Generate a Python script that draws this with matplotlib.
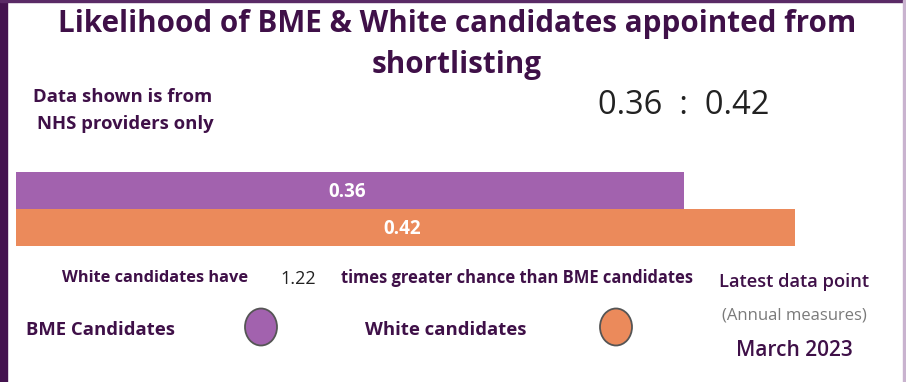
import matplotlib
matplotlib.use("Agg")
import matplotlib.pyplot as plt
from matplotlib.patches import Ellipse, Rectangle

W, H = 906, 382

title_lines = ["Likelihood of BME & White candidates appointed from", "shortlisting"]
note_lines = ["Data shown is from", "NHS providers only"]
groups = ["BME Candidates", "White candidates"]
values = [0.36, 0.42]
colors = ["#a262ae", "#eb8a5b"]
ratio = 1.22
period_lines = ["Latest data point", "(Annual measures)", "March 2023"]

DARK = "#3f1048"
plt.rcParams["font.family"] = ["Open Sans", "DejaVu Sans"]

fig = plt.figure(figsize=(W / 100, H / 100), dpi=100)


def px(x, y):
    return x / W, 1 - y / H


def label(x, y, s, size, weight="bold", color=DARK, **kw):
    fig.text(*px(x, y), s, ha="center", va="center", fontsize=size,
             fontweight=weight, color=color, **kw)


# frame
fig.patches.append(Rectangle((0, 0), 7 / W, 1, transform=fig.transFigure,
                             color="#44134f", zorder=5))
fig.patches.append(Rectangle((0, 1 - 2 / H), 1, 2 / H, transform=fig.transFigure,
                             color="#5a2a66", zorder=5))
fig.patches.append(Rectangle((1 - 3 / W, 0), 3 / W, 1, transform=fig.transFigure,
                             color="#c9b3cf", zorder=5))

# bars
ax = fig.add_axes([16 / W, 1 - 246 / H, (W - 16) / W, 74 / H])
ax.barh([0, 1], values, height=1.0, color=colors)
for i, v in enumerate(values):
    ax.text(v / 2 - 0.0015, i + 0.05, f"{v:.2f}", ha="center", va="center",
            color="white", fontsize=13.5, fontweight="bold")
ax.set_xlim(0, 0.48)
ax.set_ylim(1.5, -0.5)
ax.axis("off")

# title and texts
label(457, 24, title_lines[0], 21.3)
label(457, 65, title_lines[1], 21.3)
label(123, 97, note_lines[0], 13.3)
label(125, 124, note_lines[1], 13.3)
label(684, 105, f"{values[0]:.2f}  :  {values[1]:.2f}", 23.5, weight="normal",
      color="#222222")

label(155, 278, "White candidates have", 11.8)
label(298, 279, f"{ratio:.2f}", 13, weight="normal", color="#222222")
label(517, 278, "times greater chance than BME candidates", 11.9)

label(794, 282, period_lines[0], 13.2, weight="semibold")
label(794, 316, period_lines[1], 12, weight="normal", color="#7a7a7a")
label(794, 351, period_lines[2], 15, weight="semibold")

# legend
leg_text_x = [101, 446]
leg_dot_x = [261, 616]
for name, c, tx, dx in zip(groups, colors, leg_text_x, leg_dot_x):
    label(tx, 330, name, 13.3)
    fig.patches.append(Ellipse(px(dx, 327), 32 / W, 37 / H,
                               transform=fig.transFigure, facecolor=c,
                               edgecolor="#555555", linewidth=1.3))

fig.savefig("out.png", dpi=100, facecolor="white")
